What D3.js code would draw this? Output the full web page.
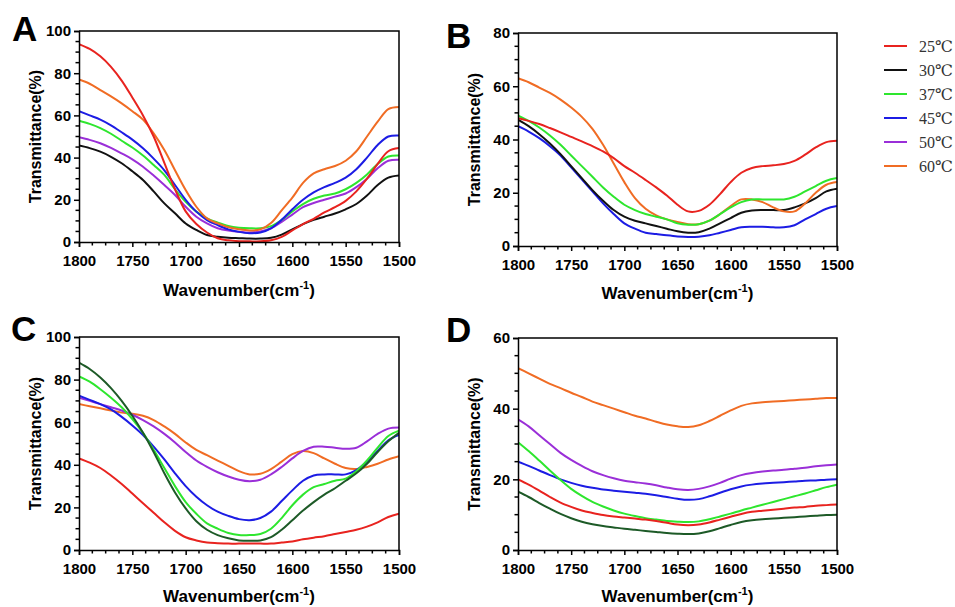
<!DOCTYPE html>
<html><head><meta charset="utf-8">
<script src="https://cdn.jsdelivr.net/npm/d3@7"></script>
<style>body{margin:0;background:#fff}svg{display:block}</style>
</head><body>
<svg id="c" width="955" height="607"></svg>
<script>
// wavenumbers (cm-1), 1800 -> 1500 step 10
const wavenumbers = [1800,1790,1780,1770,1760,1750,1740,1730,1720,1710,1700,1690,1680,1670,1660,1650,1640,1630,1620,1610,1600,1590,1580,1570,1560,1550,1540,1530,1520,1510,1500];
const xTicks = [1800,1750,1700,1650,1600,1550,1500];
const seriesNames = ["25℃","30℃","37℃","45℃","50℃","60℃"];

// Panel A
const A25 = [93.8,91.5,88,83,76.5,68.5,60,50,37.5,25,14.5,8.5,4.5,1.8,0.8,0.4,0.3,0.3,0.8,2.4,5.5,8.5,11,14,16.5,19.5,24,30,37,43,44.5];
const A30 = [45.7,44.5,42.8,40.4,37.3,33.5,29.4,24,18.3,13.6,8.8,5.7,3.3,2.5,2,1.8,1.6,1.6,2,3.5,6,8.5,10.5,12,13.5,15.5,18,22,27,30.5,31.5];
const A37 = [57.5,56,54,51.3,48,44.8,41,36.5,31.8,25,19,14.4,11.2,9.2,7.6,6.8,6.5,6.5,7.5,10.5,14.5,18,20.5,22,23,25,28,32,37,40.5,41];
const A45 = [62,60,58,55.3,52,48.5,44.4,39.5,34,27,20,14.4,10.4,8,6,4.8,4.2,4.5,6.5,10.5,15.5,20,23.5,26,28,30.5,34.5,40,46,50,50.5];
const A50 = [49.6,48.4,46.8,44.6,42,39.2,35.7,31.5,27,22.3,16.7,12,8.8,6.5,5.4,4.9,4.5,5,6.5,9.5,13,16.5,18.5,20,21.5,23,26,30,35,38.5,39];
const A60 = [77,75,72,69,65.7,62,58,51.5,43.6,34,24.6,16.7,11.2,8.8,7,6,5.5,6,9,15,21,28,32.5,34.5,36,38.5,43,50,57,63,64];

// Panel B
const B25 = [48,47,45.8,44.3,42.7,41,39.3,37.5,35.5,33,30,27.5,24.8,22,19,15.5,13,13.2,15.5,19.5,24,27.5,29.3,30,30.3,30.8,32,34.3,37,39,39.5];
const B30 = [47.5,45,42,38.5,34.5,30,25.5,21,17,13.5,11,9.5,8.5,7.5,6.5,5.5,5,5.2,6.5,8.5,10.5,12.5,13.3,13.5,13.5,13.5,14.5,16,18,20.5,21.5];
const B37 = [49,47,44.5,41.5,38,34,30,26,22,18.5,15.5,13.5,12,11,10,8.5,8,8.2,9.5,12,14.5,16.5,17.5,17.5,17.5,17.5,18.5,20.5,22.5,24.5,25.5];
const B45 = [45,43,40.5,37.5,34,29.5,25,20.5,16,12,8.5,6.5,5,4.5,4,3.6,3.4,3.5,4,5,6,7,7.2,7.2,7,7,7.8,10,12,14,15];
const B60 = [63,61.5,59.5,57.5,55,52,48.5,44,38,31,24,18,14,11.5,10,9,8.2,8.2,9.5,12,15,17.5,17.5,16.5,14.5,13,13,16,20,23,24];

// Panel C
const C25 = [43,41,38.5,35,31,26.5,22,17.5,13,9,6,4.5,3.5,3.2,3,3,3,3,3,3.5,4,5,5.8,6.5,7.5,8.5,9.5,11,13,15.5,17];
const C30 = [88,85,81,76,70,63,55,46,36,27,19.5,13.5,9.5,7,5.5,4.5,4.3,4.5,6,9.5,14,18.5,22.5,26,29,32.5,36,40.5,46,51,55];
const C37 = [81.5,79,75.5,71.5,67,61.5,55,47,38.5,30,22.5,17,12.5,10,8,7,7,7.5,10,15,21,26,29.5,31,32.5,33.5,37,42,48,53.5,56];
const C45 = [72.5,70.5,68.5,66,62.5,58.5,54,48.5,42.5,36,30,25,21,18,16,14.5,14,15,18,23,28,32.5,35,35.5,35.5,35.5,37.5,41.5,46.5,51.5,54];
const C50 = [71.5,70,68.5,67,65.5,63.5,61,58,54.5,50.5,46,42,39,36.5,34.5,33,32.3,33,35.5,39,43,46.5,48.5,48.5,48,47.5,48,51,54.5,57,57.5];
const C60 = [68.5,67.5,66.5,65.5,64.5,64,63,61,58,54.5,50.5,47,44.5,42,39.5,37,35.5,35.8,38,41.5,45,46.5,45.5,43,40.5,38.5,38,39,40.5,42.5,44];

// Panel D
const D25 = [20,18.5,16.8,15,13.4,12.2,11.2,10.5,9.9,9.5,9.2,8.9,8.6,8.2,7.7,7.2,7,7.2,7.8,8.6,9.4,10.2,10.8,11.1,11.4,11.7,12,12.2,12.5,12.7,12.9];
const D30 = [16.5,15,13.3,11.7,10.2,9,8,7.3,6.8,6.4,6,5.7,5.4,5.1,4.8,4.6,4.5,4.7,5.3,6.2,7.1,7.9,8.4,8.7,8.9,9.1,9.3,9.5,9.7,9.9,10];
const D37 = [30.5,28,25.3,22.5,19.8,17.3,15.3,13.6,12.3,11.2,10.3,9.6,9,8.6,8.2,8,7.9,8.1,8.7,9.5,10.3,11.2,12,12.8,13.6,14.4,15.2,16,16.9,17.8,18.5];
const D45 = [25,23.8,22.5,21.2,20,19,18.2,17.6,17.1,16.8,16.5,16.2,15.9,15.5,15,14.5,14.2,14.4,15.2,16.2,17.2,18,18.5,18.8,19,19.2,19.4,19.6,19.7,19.9,20];
const D50 = [37,35,32.5,30,27.5,25.5,23.8,22.3,21.2,20.3,19.6,19.2,18.8,18.3,17.7,17.2,17,17.3,18,19,20.2,21.2,21.8,22.2,22.5,22.7,23,23.3,23.7,24,24.2];
const D60 = [51.5,50,48.5,47,45.8,44.5,43.3,42,41,40,39,38,37.2,36.3,35.5,35,34.8,35.3,36.5,38,39.5,40.8,41.5,41.8,42,42.2,42.4,42.6,42.8,43,43];

const COL = {red:"#e8231f", black:"#111111", dkgreen:"#1d5a27", green:"#2ee62e", blue:"#1c1ce4", purple:"#9a2fd8", orange:"#f06c24"};

const panels = [
  {letter:"A", lx:12, ly:41, x0:79, x1:399, y0:31, y1:242, ymax:100, yTicks:[0,20,40,60,80,100], tickBase:266, titleBase:296,
   series:[[A30,COL.black],[A50,COL.purple],[A37,COL.green],[A45,COL.blue],[A60,COL.orange],[A25,COL.red]]},
  {letter:"B", lx:446, ly:48, x0:518, x1:837, y0:33, y1:246, ymax:80, yTicks:[0,20,40,60,80], tickBase:270, titleBase:299,
   series:[[B45,COL.blue],[B30,COL.black],[B60,COL.orange],[B37,COL.green],[B25,COL.red]]},
  {letter:"C", lx:11, ly:341, x0:79, x1:399, y0:337, y1:550, ymax:100, yTicks:[0,20,40,60,80,100], tickBase:574, titleBase:602,
   series:[[C25,COL.red],[C60,COL.orange],[C50,COL.purple],[C45,COL.blue],[C37,COL.green],[C30,COL.dkgreen]]},
  {letter:"D", lx:446, ly:342, x0:518, x1:837, y0:338, y1:550, ymax:60, yTicks:[0,20,40,60], tickBase:574, titleBase:602,
   series:[[D60,COL.orange],[D50,COL.purple],[D45,COL.blue],[D37,COL.green],[D25,COL.red],[D30,COL.dkgreen]]}
];

const svg = d3.select("#c");
const boldFont = "Arial, 'Liberation Sans', sans-serif";

panels.forEach(p => {
  const x = d3.scaleLinear().domain([1800,1500]).range([p.x0,p.x1]);
  const y = d3.scaleLinear().domain([0,p.ymax]).range([p.y1,p.y0]);
  const g = svg.append("g");

  const cid = "clip"+p.letter;
  svg.append("clipPath").attr("id",cid).append("rect")
    .attr("x",p.x0).attr("y",p.y0-1).attr("width",p.x1-p.x0).attr("height",p.y1-p.y0+1);

  const line = d3.line().x((d,i)=>x(wavenumbers[i])).y(d=>y(d)).curve(d3.curveCatmullRom.alpha(0.5));
  const lg = g.append("g").attr("clip-path",`url(#${cid})`);
  p.series.forEach(([vals,c]) => {
    lg.append("path").attr("d",line(vals)).attr("fill","none").attr("stroke",c).attr("stroke-width",2);
  });

  g.append("path").attr("d",`M${p.x0},${p.y0}H${p.x1}V${p.y1}`).attr("fill","none").attr("stroke","#000").attr("stroke-width",1.5);

  const xMinor = d3.range(1800,1499,-12.5).filter(v=>v%50!==0);
  const xa = g.append("g").attr("transform",`translate(0,${p.y1})`)
    .call(d3.axisBottom(x).tickValues(xTicks).tickFormat(d3.format("d")).tickSize(5).tickPadding(6));
  xa.append("g").selectAll("line").data(xMinor).join("line")
    .attr("x1",d=>x(d)).attr("x2",d=>x(d)).attr("y1",0).attr("y2",3.5).attr("stroke","#000").attr("stroke-width",1.5);
  const yMinor = d3.range(0,p.ymax+0.1,5).filter(v=>v%20!==0);
  const ya = g.append("g").attr("transform",`translate(${p.x0},0)`)
    .call(d3.axisLeft(y).tickValues(p.yTicks).tickFormat(d3.format("d")).tickSize(5).tickPadding(3));
  ya.append("g").selectAll("line").data(yMinor).join("line")
    .attr("y1",d=>y(d)).attr("y2",d=>y(d)).attr("x1",0).attr("x2",-3.5).attr("stroke","#000").attr("stroke-width",1.5);

  [xa,ya].forEach(a=>{
    a.select(".domain").attr("stroke","#000").attr("stroke-width",1.5);
    a.selectAll(".tick line").attr("stroke","#000").attr("stroke-width",1.5);
    a.selectAll(".tick text").attr("font-family",boldFont).attr("font-weight","bold").attr("font-size",15).attr("fill","#000");
  });
  xa.selectAll(".tick text").attr("dy",null).attr("y",p.tickBase-p.y1);

  const xt = g.append("text").attr("x",(p.x0+p.x1)/2).attr("y",p.titleBase).attr("text-anchor","middle")
    .attr("font-family",boldFont).attr("font-weight","bold").attr("font-size",17).attr("fill","#000");
  xt.append("tspan").text("Wavenumber(cm");
  xt.append("tspan").attr("font-size",11).attr("dy",-7).text("-1");
  xt.append("tspan").attr("dy",7).text(")");

  g.append("text").attr("transform",`translate(${p.x0-38},${(p.y0+p.y1)/2}) rotate(-90)`)
    .attr("text-anchor","middle").attr("font-family",boldFont).attr("font-weight","bold").attr("font-size",16).attr("fill","#000")
    .text("Transmittance(%)");

  g.append("text").attr("x",p.lx).attr("y",p.ly).attr("font-family",boldFont).attr("font-weight","bold")
    .attr("font-size",35).attr("fill","#000").text(p.letter);
});

const legColors = [COL.red,COL.black,COL.green,COL.blue,COL.purple,COL.orange];
const legY = d3.scalePoint().domain(seriesNames).range([46,166]);
const lg = svg.append("g");
seriesNames.forEach((n,i)=>{
  lg.append("line").attr("x1",884).attr("x2",907).attr("y1",legY(n)).attr("y2",legY(n)).attr("stroke",legColors[i]).attr("stroke-width",2);
  lg.append("text").attr("x",919).attr("y",legY(n)+5.5).attr("font-family","'Liberation Serif','DejaVu Serif',serif")
    .attr("font-size",16).attr("fill","#333").text(n);
});
</script>
</body></html>
